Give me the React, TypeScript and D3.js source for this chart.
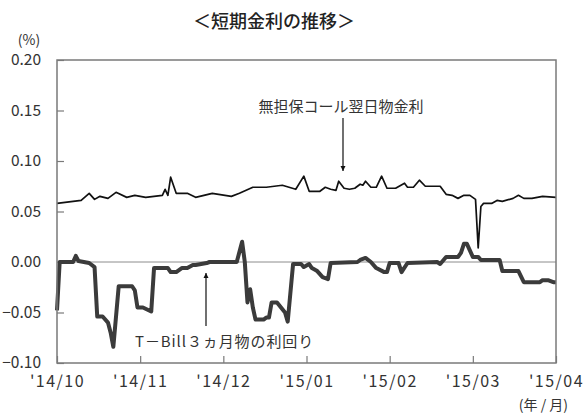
import React, { useEffect, useRef } from 'react';
import * as d3 from 'd3';

const width: number = 583;
const height: number = 414;

// 無担保コール翌日物金利 (%)
const callDates: string[] = [
  '2014-10-01', '2014-10-10', '2014-10-13', '2014-10-15', '2014-10-17', '2014-10-20', '2014-10-23',
  '2014-10-27', '2014-10-30', '2014-11-03', '2014-11-09', '2014-11-10', '2014-11-11', '2014-11-12',
  '2014-11-14', '2014-11-18', '2014-11-21', '2014-11-27', '2014-12-04', '2014-12-07', '2014-12-12',
  '2014-12-17', '2014-12-23', '2014-12-28', '2014-12-31', '2015-01-02', '2015-01-06', '2015-01-08',
  '2015-01-10', '2015-01-12', '2015-01-13', '2015-01-15', '2015-01-17', '2015-01-19', '2015-01-21',
  '2015-01-22', '2015-01-23', '2015-01-25', '2015-01-27', '2015-01-29', '2015-01-31', '2015-02-03',
  '2015-02-06', '2015-02-07', '2015-02-09', '2015-02-11', '2015-02-13', '2015-02-18', '2015-02-20',
  '2015-02-22', '2015-02-24', '2015-02-26', '2015-02-28', '2015-03-02', '2015-03-03', '2015-03-04',
  '2015-03-05', '2015-03-08', '2015-03-10', '2015-03-12', '2015-03-16', '2015-03-18', '2015-03-20',
  '2015-03-23', '2015-03-27', '2015-04-01',
];
const callValues: number[] = [
  0.058, 0.061, 0.068, 0.062, 0.065, 0.063, 0.069,
  0.064, 0.066, 0.064, 0.066, 0.072, 0.066, 0.084,
  0.068, 0.068, 0.064, 0.068, 0.065, 0.068, 0.074,
  0.074, 0.076, 0.072, 0.085, 0.070, 0.070, 0.074,
  0.072, 0.071, 0.080, 0.073, 0.072, 0.073, 0.077,
  0.076, 0.080, 0.074, 0.074, 0.085, 0.073, 0.073,
  0.078, 0.074, 0.074, 0.081, 0.075, 0.075, 0.067,
  0.066, 0.063, 0.066, 0.066, 0.062, 0.014, 0.055,
  0.058, 0.058, 0.061, 0.060, 0.063, 0.066, 0.063,
  0.063, 0.065, 0.064,
];

// T-Bill３ヵ月物の利回り (%)
const billDates: string[] = [
  '2014-10-01', '2014-10-02', '2014-10-07', '2014-10-08', '2014-10-09', '2014-10-13', '2014-10-15',
  '2014-10-16', '2014-10-18', '2014-10-20', '2014-10-21', '2014-10-22', '2014-10-24', '2014-10-29',
  '2014-10-30', '2014-10-31', '2014-11-02', '2014-11-05', '2014-11-06', '2014-11-11', '2014-11-12',
  '2014-11-14', '2014-11-16', '2014-11-18', '2014-11-20', '2014-11-21', '2014-11-25', '2014-11-26',
  '2014-12-06', '2014-12-08', '2014-12-09', '2014-12-10', '2014-12-11', '2014-12-12', '2014-12-13',
  '2014-12-16', '2014-12-17', '2014-12-18', '2014-12-19', '2014-12-21', '2014-12-24', '2014-12-25',
  '2014-12-27', '2014-12-30', '2014-12-31', '2015-01-02', '2015-01-03', '2015-01-05', '2015-01-07',
  '2015-01-09', '2015-01-10', '2015-01-20', '2015-01-21', '2015-01-23', '2015-01-25', '2015-01-27',
  '2015-01-30', '2015-01-31', '2015-02-01', '2015-02-04', '2015-02-05', '2015-02-07', '2015-02-17',
  '2015-02-18', '2015-02-20', '2015-02-24', '2015-02-25', '2015-02-26', '2015-02-27', '2015-03-01',
  '2015-03-03', '2015-03-04', '2015-03-11', '2015-03-12', '2015-03-18', '2015-03-20', '2015-03-26',
  '2015-03-27', '2015-03-29', '2015-03-31', '2015-04-01',
];
const billValues: number[] = [
  -0.048, 0.000, 0.000, 0.006, 0.001, -0.001, -0.005,
  -0.054, -0.054, -0.060, -0.070, -0.084, -0.024, -0.024,
  -0.028, -0.045, -0.045, -0.049, -0.006, -0.006, -0.010,
  -0.010, -0.006, -0.006, -0.003, -0.003, -0.001, 0.000,
  0.000, 0.020, 0.000, -0.040, -0.027, -0.045, -0.057,
  -0.057, -0.055, -0.055, -0.040, -0.040, -0.050, -0.059,
  -0.002, -0.002, -0.005, -0.002, -0.006, -0.009, -0.015,
  -0.017, -0.001, 0.000, 0.002, 0.004, 0.000, -0.006,
  -0.010, -0.010, -0.001, -0.001, -0.010, -0.001, 0.000,
  -0.002, 0.005, 0.005, 0.009, 0.018, 0.018, 0.005,
  0.005, 0.002, 0.002, -0.009, -0.009, -0.020, -0.020,
  -0.018, -0.018, -0.020, -0.020,
];

const yTicks: number[] = [-0.10, -0.05, 0.00, 0.05, 0.10, 0.15, 0.20];
const xTickLabels: string[] = ["'14/10", "'14/11", "'14/12", "'15/01", "'15/02", "'15/03", "'15/04"];

const font = "'Noto Sans CJK JP', 'Noto Sans', sans-serif";
const textColor = '#333';
const frameColor = '#7a7a7a';

// months are spaced evenly on the axis: position = month index from Oct 2014 + day fraction
const monthPos = (s: string): number => {
  const [yy, mm, dd] = s.split('-').map(Number);
  const days = new Date(yy, mm, 0).getDate();
  return (yy - 2014) * 12 + (mm - 10) + (dd - 1) / days;
};

const App = () => {
  const ref = useRef<SVGSVGElement>(null);

  useEffect(() => {
    document.body.style.margin = '0';

    const svg: any = d3.select(ref.current);
    svg.selectAll('*').remove();

    const xScale: any = d3.scaleLinear().domain([0, 6]).range([57, 556]);
    const yScale: any = d3.scaleLinear().domain([-0.10, 0.20]).range([363, 60]);

    svg.append('defs')
      .append('marker')
      .attr('id', 'arrow')
      .attr('viewBox', '0 0 10 10')
      .attr('refX', 10)
      .attr('refY', 5)
      .attr('markerWidth', 5)
      .attr('markerHeight', 9)
      .attr('markerUnits', 'userSpaceOnUse')
      .attr('orient', 'auto')
      .append('path')
      .attr('d', 'M0,0 L10,5 L0,10 Z')
      .attr('fill', '#111');

    // Title
    svg.append('text')
      .attr('x', 274)
      .attr('y', 28)
      .attr('text-anchor', 'middle')
      .attr('font-family', font)
      .attr('font-size', 18)
      .attr('font-weight', 500)
      .attr('fill', '#222')
      .text('＜短期金利の推移＞');

    svg.append('text')
      .attr('x', 29)
      .attr('y', 45)
      .attr('text-anchor', 'middle')
      .attr('font-family', font)
      .attr('font-size', 14)
      .attr('fill', textColor)
      .text('(%)');

    // Zero line
    svg.append('line')
      .attr('x1', xScale(0))
      .attr('x2', xScale(6))
      .attr('y1', yScale(0))
      .attr('y2', yScale(0))
      .attr('stroke', '#8c8c8c')
      .attr('stroke-width', 1);

    // Y ticks and labels
    const yAxis = d3.axisLeft(yScale)
      .tickValues(yTicks)
      .tickSize(-7)
      .tickPadding(16)
      .tickFormat((d: any) => d3.format('.2f')(d));
    const gy: any = svg.append('g')
      .attr('transform', `translate(${xScale(0)},0)`)
      .call(yAxis);
    gy.select('.domain').remove();
    gy.selectAll('line').attr('stroke', frameColor).attr('stroke-width', 1.2);
    gy.selectAll('text')
      .attr('font-family', font)
      .attr('font-size', 15.5)
      .attr('fill', textColor);

    // X ticks and labels
    const xAxis = d3.axisBottom(xScale)
      .tickValues(d3.range(7))
      .tickSize(-7)
      .tickPadding(13)
      .tickFormat((d: any) => xTickLabels[d]);
    const gx: any = svg.append('g')
      .attr('transform', `translate(0,${yScale(-0.10)})`)
      .call(xAxis);
    gx.select('.domain').remove();
    gx.selectAll('line').attr('stroke', frameColor).attr('stroke-width', 1.2);
    gx.selectAll('text')
      .attr('font-family', font)
      .attr('font-size', 16)
      .attr('letter-spacing', 1.5)
      .attr('fill', textColor);

    svg.append('text')
      .attr('x', 568)
      .attr('y', 410)
      .attr('text-anchor', 'end')
      .attr('font-family', font)
      .attr('font-size', 14)
      .attr('fill', textColor)
      .text('(年 / 月)');

    // Lines
    const line: any = d3.line<[string, number]>()
      .x((d) => xScale(monthPos(d[0])))
      .y((d) => yScale(d[1]));

    const billData: [string, number][] = billDates.map((d, i) => [d, billValues[i]]);
    const callData: [string, number][] = callDates.map((d, i) => [d, callValues[i]]);

    svg.append('path')
      .datum(billData)
      .attr('d', line)
      .attr('fill', 'none')
      .attr('stroke', '#3b3b3b')
      .attr('stroke-width', 4)
      .attr('stroke-linejoin', 'round');

    svg.append('path')
      .datum(callData)
      .attr('d', line)
      .attr('fill', 'none')
      .attr('stroke', '#111')
      .attr('stroke-width', 1.7)
      .attr('stroke-linejoin', 'round');

    // Frame
    svg.append('rect')
      .attr('x', xScale(0))
      .attr('y', yScale(0.20))
      .attr('width', xScale(6) - xScale(0))
      .attr('height', yScale(-0.10) - yScale(0.20))
      .attr('fill', 'none')
      .attr('stroke', frameColor)
      .attr('stroke-width', 1.5);

    // Annotations
    svg.append('text')
      .attr('x', 341)
      .attr('y', 112)
      .attr('text-anchor', 'middle')
      .attr('font-family', font)
      .attr('font-size', 15)
      .attr('fill', textColor)
      .text('無担保コール翌日物金利');
    svg.append('line')
      .attr('x1', 343).attr('x2', 343)
      .attr('y1', 118).attr('y2', 171)
      .attr('stroke', '#111')
      .attr('stroke-width', 1.2)
      .attr('marker-end', 'url(#arrow)');

    svg.append('text')
      .attr('x', 135)
      .attr('y', 347)
      .attr('font-family', font)
      .attr('font-size', 15)
      .attr('letter-spacing', 0.9)
      .attr('fill', textColor)
      .text('T－Bill３ヵ月物の利回り');
    svg.append('line')
      .attr('x1', 206).attr('x2', 206)
      .attr('y1', 326).attr('y2', 273)
      .attr('stroke', '#111')
      .attr('stroke-width', 1.2)
      .attr('marker-end', 'url(#arrow)');
  }, []);

  return (
    <svg ref={ref} width={width} height={height} style={{ display: 'block', background: '#fff' }} />
  );
};

export default App;
